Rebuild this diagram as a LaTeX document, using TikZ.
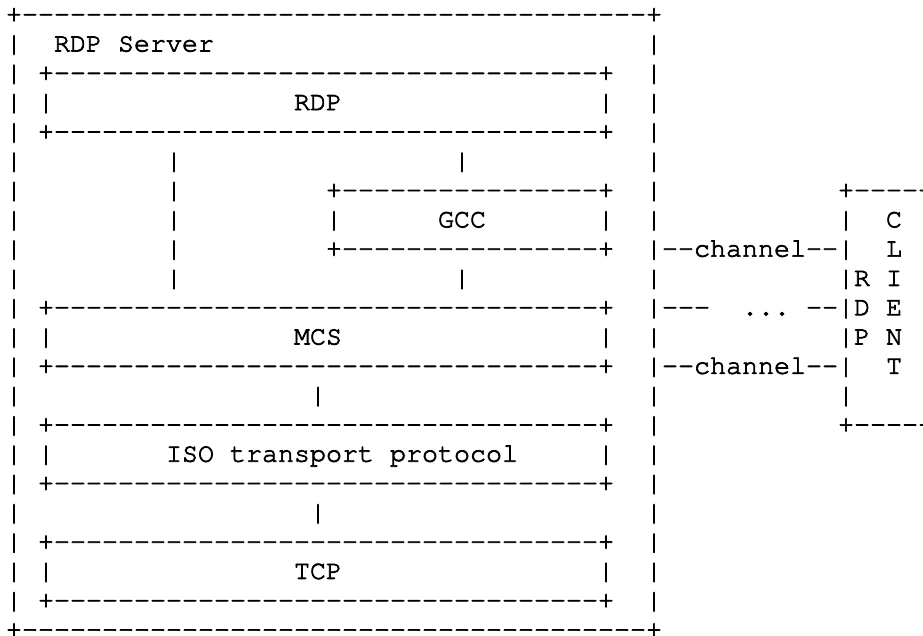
\documentclass[tikz,border=0pt]{standalone}
\usepackage[T1]{fontenc}
\usepackage{courier}
% one character cell of the monospaced grid
\newlength\cw
\setlength\cw{16pt}
\newcommand\gap[1]{\hspace*{#1\cw}}
\newcommand\dashes[1]{\foreach \k in {1,...,#1}{-}}
% glyphs filled and lightly stroked, for a slightly heavier typewriter face
\newcommand\heavytext{\special{pdf:literal 2 Tr 0.7 w}}
\newcommand\plaintext{\special{pdf:literal 0 Tr}}
\begin{document}
\begin{tikzpicture}[
  x=1pt, y=1pt,
  asciirow/.style={anchor=base west, inner sep=0pt, outer sep=0pt,
    font=\ttfamily\fontsize{26.67pt}{29.3pt}\selectfont, text=black,
    execute at begin node=\heavytext, execute at end node=\plaintext}
]
\useasboundingbox (0,0) rectangle (923,-635);
\fill[white] (0,0) rectangle (923,-635);
\clip (0,0) rectangle (923,-635);

% server frame and protocol stack, one text row per line
\node[asciirow] (row0)  at (6,{-(22.2+29.3*0)})  {+\dashes{39}+};
\node[asciirow] (row1)  at (6,{-(22.2+29.3*1)})  {|\gap{2}RDP Server\gap{27}|};
\node[asciirow] (row2)  at (6,{-(22.2+29.3*2)})  {|\gap{1}+\dashes{34}+\gap{2}|};
\node[asciirow] (row3)  at (6,{-(22.2+29.3*3)})  {|\gap{1}|\gap{15}RDP\gap{16}|\gap{2}|};
\node[asciirow] (row4)  at (6,{-(22.2+29.3*4)})  {|\gap{1}+\dashes{34}+\gap{2}|};
\node[asciirow] (row5)  at (6,{-(22.2+29.3*5)})  {|\gap{9}|\gap{17}|\gap{11}|};
\node[asciirow] (row6)  at (6,{-(22.2+29.3*6)})  {|\gap{9}|\gap{9}+\dashes{16}+\gap{2}|\gap{11}+\dashes{10}};
\node[asciirow] (row7)  at (6,{-(22.2+29.3*7)})  {|\gap{9}|\gap{9}|\gap{6}GCC\gap{7}|\gap{2}|\gap{11}|\gap{2}C};
\node[asciirow] (row8)  at (6,{-(22.2+29.3*8)})  {|\gap{9}|\gap{9}+\dashes{16}+\gap{2}|-{}-channel-{}-|\gap{2}L};
\node[asciirow] (row9)  at (6,{-(22.2+29.3*9)})  {|\gap{9}|\gap{17}|\gap{11}|\gap{11}|R\gap{1}I};
\node[asciirow] (row10) at (6,{-(22.2+29.3*10)}) {|\gap{1}+\dashes{34}+\gap{2}|-{}-{}-\gap{2}.{}.{}.\gap{1}-{}-|D\gap{1}E};
\node[asciirow] (row11) at (6,{-(22.2+29.3*11)}) {|\gap{1}|\gap{15}MCS\gap{16}|\gap{2}|\gap{11}|P\gap{1}N};
\node[asciirow] (row12) at (6,{-(22.2+29.3*12)}) {|\gap{1}+\dashes{34}+\gap{2}|-{}-channel-{}-|\gap{2}T};
\node[asciirow] (row13) at (6,{-(22.2+29.3*13)}) {|\gap{18}|\gap{20}|\gap{11}|};
\node[asciirow] (row14) at (6,{-(22.2+29.3*14)}) {|\gap{1}+\dashes{34}+\gap{2}|\gap{11}+\dashes{10}};
\node[asciirow] (row15) at (6,{-(22.2+29.3*15)}) {|\gap{1}|\gap{7}ISO\gap{1}transport\gap{1}protocol\gap{5}|\gap{2}|};
\node[asciirow] (row16) at (6,{-(22.2+29.3*16)}) {|\gap{1}+\dashes{34}+\gap{2}|};
\node[asciirow] (row17) at (6,{-(22.2+29.3*17)}) {|\gap{18}|\gap{20}|};
\node[asciirow] (row18) at (6,{-(22.2+29.3*18)}) {|\gap{1}+\dashes{34}+\gap{2}|};
\node[asciirow] (row19) at (6,{-(22.2+29.3*19)}) {|\gap{1}|\gap{15}TCP\gap{16}|\gap{2}|};
\node[asciirow] (row20) at (6,{-(22.2+29.3*20)}) {|\gap{1}+\dashes{34}+\gap{2}|};
\node[asciirow] (row21) at (6,{-(22.2+29.3*21)}) {+\dashes{39}+};
\end{tikzpicture}
\end{document}
